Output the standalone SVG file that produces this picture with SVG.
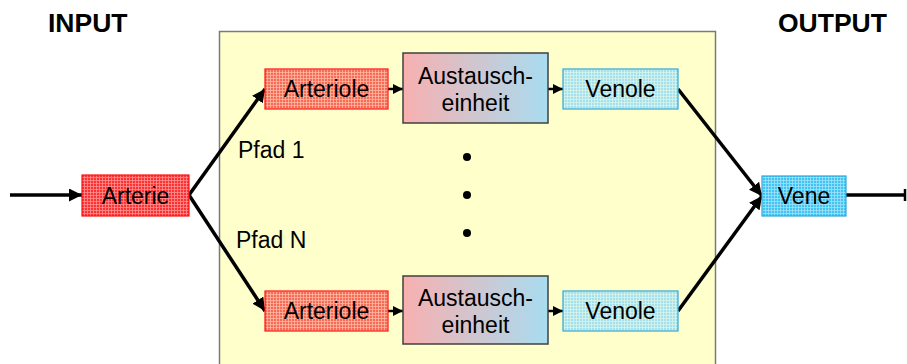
<svg xmlns="http://www.w3.org/2000/svg" width="907" height="364" viewBox="0 0 907 364">
  <defs>
    <style>
      .lbl { font-family: "Liberation Sans", Arial, sans-serif; font-size: 23px; fill: #000; }
      .title { font-family: "Liberation Sans", Arial, sans-serif; font-size: 26.5px; font-weight: bold; fill: #000; }
      .wire { stroke: #000; stroke-width: 3.5; fill: none; }
      .short { stroke: #000; stroke-width: 2.5; fill: none; }
      .unit { stroke: #404040; stroke-width: 1.5; fill: url(#exchange); }
    </style>
    <!-- hatched vessel fills -->
    <pattern id="redGrid" width="3" height="3" patternUnits="userSpaceOnUse">
      <rect width="3" height="3" fill="#ff3030"/>
      <path d="M0 0.5H3M0.5 0V3" stroke="#ff9090" stroke-width="0.8"/>
    </pattern>
    <pattern id="salmonGrid" width="3" height="3" patternUnits="userSpaceOnUse">
      <rect width="3" height="3" fill="#f86a58"/>
      <path d="M0 0.5H3M0.5 0V3" stroke="#ffb8a0" stroke-width="0.8"/>
    </pattern>
    <pattern id="paleBlueGrid" width="3" height="3" patternUnits="userSpaceOnUse">
      <rect width="3" height="3" fill="#a4e0ee"/>
      <path d="M0 0.5H3M0.5 0V3" stroke="#d8f4e8" stroke-width="0.8"/>
    </pattern>
    <pattern id="blueGrid" width="3" height="3" patternUnits="userSpaceOnUse">
      <rect width="3" height="3" fill="#40c4f4"/>
      <path d="M0 0.5H3M0.5 0V3" stroke="#a0e2fa" stroke-width="0.8"/>
    </pattern>
    <linearGradient id="exchange" x1="0" y1="0" x2="1" y2="0">
      <stop offset="0" stop-color="#f8b0b0"/>
      <stop offset="1" stop-color="#a8dcf0"/>
    </linearGradient>
    <marker id="head" viewBox="0 0 10 10" refX="10" refY="5" markerWidth="10" markerHeight="10" markerUnits="userSpaceOnUse" orient="auto">
      <path d="M0 0L10 5L0 10Z" fill="#000"/>
    </marker>
    <marker id="headBig" viewBox="0 0 10 10" refX="10" refY="5" markerWidth="13" markerHeight="13" markerUnits="userSpaceOnUse" orient="auto">
      <path d="M0 0L10 5L0 10Z" fill="#000"/>
    </marker>
  </defs>

  <rect width="907" height="364" fill="#ffffff"/>

  <!-- capillary bed region -->
  <rect id="bed" x="219.5" y="31.5" width="496" height="340" fill="#ffffcc" stroke="#7a7a7a" stroke-width="1.5"/>

  <text class="title" x="48" y="32">INPUT</text>
  <text class="title" x="778" y="32">OUTPUT</text>

  <g id="connectors">
    <line class="wire" x1="10" y1="195" x2="82" y2="195" marker-end="url(#headBig)"/>
    <line class="wire" x1="189" y1="195" x2="265" y2="89" marker-end="url(#headBig)"/>
    <line class="wire" x1="189" y1="195" x2="265" y2="311" marker-end="url(#headBig)"/>
    <line class="short" x1="388" y1="89" x2="403" y2="89" marker-end="url(#head)"/>
    <line class="short" x1="548" y1="89" x2="563" y2="89" marker-end="url(#head)"/>
    <line class="short" x1="388" y1="311" x2="403" y2="311" marker-end="url(#head)"/>
    <line class="short" x1="548" y1="311" x2="563" y2="311" marker-end="url(#head)"/>
    <line class="wire" x1="678" y1="89" x2="762" y2="196" marker-end="url(#headBig)"/>
    <line class="wire" x1="678" y1="311" x2="762" y2="196" marker-end="url(#headBig)"/>
    <line class="wire" x1="846" y1="195" x2="906" y2="195"/>
    <line x1="905" y1="189" x2="905" y2="201" stroke="#000" stroke-width="2.5"/>
  </g>

  <g id="arterie">
    <rect x="82" y="175" width="107" height="41" fill="url(#redGrid)" stroke="#ff1010" stroke-width="1.2"/>
    <text class="lbl" x="135.5" y="204" text-anchor="middle">Arterie</text>
  </g>

  <g id="arteriole1">
    <rect x="265" y="69" width="123" height="40" fill="url(#salmonGrid)" stroke="#ff1010" stroke-width="1.2"/>
    <text class="lbl" x="326.5" y="97" text-anchor="middle">Arteriole</text>
  </g>
  <g id="exchange1">
    <rect class="unit" x="403" y="53" width="145" height="70"/>
    <text class="lbl" x="475.5" y="84" text-anchor="middle">Austausch-</text>
    <text class="lbl" x="475.5" y="111" text-anchor="middle">einheit</text>
  </g>
  <g id="venole1">
    <rect x="563" y="69" width="115" height="40" fill="url(#paleBlueGrid)" stroke="#30a8d8" stroke-width="1.2"/>
    <text class="lbl" x="620.5" y="97" text-anchor="middle">Venole</text>
  </g>

  <g id="arterioleN">
    <rect x="265" y="291" width="123" height="40" fill="url(#salmonGrid)" stroke="#ff1010" stroke-width="1.2"/>
    <text class="lbl" x="326.5" y="319" text-anchor="middle">Arteriole</text>
  </g>
  <g id="exchangeN">
    <rect class="unit" x="403" y="276" width="145" height="68"/>
    <text class="lbl" x="475.5" y="306" text-anchor="middle">Austausch-</text>
    <text class="lbl" x="475.5" y="333" text-anchor="middle">einheit</text>
  </g>
  <g id="venoleN">
    <rect x="563" y="291" width="115" height="40" fill="url(#paleBlueGrid)" stroke="#30a8d8" stroke-width="1.2"/>
    <text class="lbl" x="620.5" y="319" text-anchor="middle">Venole</text>
  </g>

  <g id="vene">
    <rect x="762" y="176" width="84" height="40" fill="url(#blueGrid)" stroke="#30a8d8" stroke-width="1.2"/>
    <text class="lbl" x="804" y="204" text-anchor="middle">Vene</text>
  </g>

  <text class="lbl" x="238" y="158">Pfad 1</text>
  <text class="lbl" x="236" y="248">Pfad N</text>

  <g id="ellipsis" fill="#000">
    <circle cx="467" cy="157" r="4"/>
    <circle cx="467" cy="195" r="4"/>
    <circle cx="467" cy="233" r="4"/>
  </g>
</svg>
